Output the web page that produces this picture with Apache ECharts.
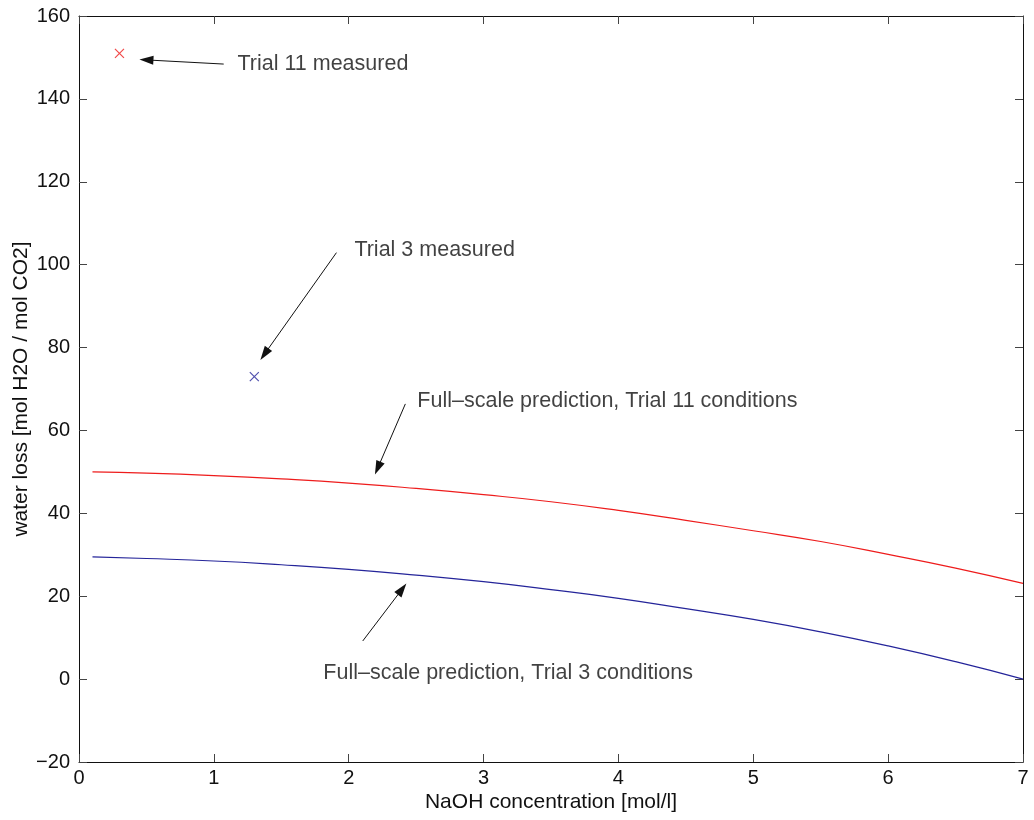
<!DOCTYPE html>
<html>
<head>
<meta charset="utf-8">
<script src="https://cdn.jsdelivr.net/npm/echarts@6/dist/echarts.min.js"></script>
<style>
html,body{margin:0;padding:0;background:#fff;}
#chart{width:1034px;height:820px;}
</style>
</head>
<body>
<div id="chart"></div>
<script>
// NaOH concentration [mol/l]
const xValues = [0.1, 0.5, 1.0, 1.5, 2.0, 2.5, 3.0, 3.5, 4.0, 4.5, 5.0, 5.5, 6.0, 6.5, 7.0];
// Full-scale prediction, Trial 11 conditions
const trial11Pred = [50.0, 49.7, 49.1, 48.3, 47.3, 46.0, 44.5, 42.8, 40.7, 38.3, 35.8, 33.2, 30.1, 26.8, 23.1];
// Full-scale prediction, Trial 3 conditions
const trial3Pred = [29.5, 29.1, 28.5, 27.6, 26.5, 25.1, 23.5, 21.6, 19.5, 17.0, 14.4, 11.4, 8.0, 4.2, 0.0];
// Measured points [x, y]
const trial11Measured = [[0.3, 151]];
const trial3Measured = [[1.3, 73]];
// Axis ticks
const xTicks = [0, 1, 2, 3, 4, 5, 6, 7];
const yTicks = [-20, 0, 20, 40, 60, 80, 100, 120, 140, 160];
// Annotations: text anchor [x, y] and arrow from [x,y] to [x,y]
const annoTexts = ['Trial 11 measured', 'Trial 3 measured', 'Full\u2013scale prediction, Trial 11 conditions', 'Full\u2013scale prediction, Trial 3 conditions'];
const annoTextPos = [[1.175, 148.4], [2.042, 103.5], [2.509, 67.1], [1.812, 1.45]];
const arrowFrom = [[1.073, 148.4], [1.909, 102.9], [2.42, 66.4], [2.104, 9.2]];
const arrowTo = [[0.50, 149.4], [1.375, 78.4], [2.215, 50.9], [2.396, 21.7]];

const FONT = 'Liberation Sans, Arial, Helvetica, sans-serif';
const chart = echarts.init(document.getElementById('chart'), null, {renderer: 'canvas'});

const xMin = xTicks[0], xMax = xTicks[xTicks.length - 1];
const yMin = yTicks[0], yMax = yTicks[yTicks.length - 1];
const xInt = xTicks[1] - xTicks[0], yInt = yTicks[1] - yTicks[0];

const axisLineStyle = {color: '#111', width: 1};
const tickStyle = {color: '#444', width: 1};

const xCross = 'path://M0,0 L10,10 M10,0 L0,10';

const option = {
  animation: false,
  backgroundColor: '#ffffff',
  grid: {left: 79, right: 11, top: 16, bottom: 58, containLabel: false, outerBoundsMode: 'none'},
  xAxis: [{
    type: 'value', min: xMin, max: xMax, interval: xInt, position: 'bottom',
    name: 'NaOH concentration [mol/l]', nameLocation: 'middle', nameGap: 30, nameMoveOverlap: false,
    nameTextStyle: {fontFamily: FONT, fontSize: 21, color: '#111'},
    axisLine: {show: true, onZero: false, lineStyle: axisLineStyle},
    axisTick: {show: true, inside: true, length: 8, lineStyle: tickStyle},
    axisLabel: {fontFamily: FONT, fontSize: 20, color: '#111', margin: 6},
    splitLine: {show: false}
  }, {
    type: 'value', min: xMin, max: xMax, interval: xInt, position: 'top',
    axisLine: {show: true, onZero: false, lineStyle: axisLineStyle},
    axisTick: {show: true, inside: true, length: 8, lineStyle: tickStyle},
    axisLabel: {show: false},
    splitLine: {show: false}
  }],
  yAxis: [{
    type: 'value', min: yMin, max: yMax, interval: yInt, position: 'left',
    name: 'water loss [mol H2O / mol CO2]', nameLocation: 'middle', nameGap: 47, nameMoveOverlap: false,
    nameTextStyle: {fontFamily: FONT, fontSize: 21, color: '#111'},
    axisLine: {show: true, onZero: false, lineStyle: axisLineStyle},
    axisTick: {show: true, inside: true, length: 8, lineStyle: tickStyle},
    axisLabel: {fontFamily: FONT, fontSize: 20, color: '#111', margin: 9,
      formatter: v => (v < 0 ? '\u2212' + Math.abs(v) : String(v))},
    splitLine: {show: false}
  }, {
    type: 'value', min: yMin, max: yMax, interval: yInt, position: 'right',
    axisLine: {show: true, onZero: false, lineStyle: axisLineStyle},
    axisTick: {show: true, inside: true, length: 8, lineStyle: tickStyle},
    axisLabel: {show: false},
    splitLine: {show: false}
  }],
  series: [
    {
      name: 'Trial 11 prediction', type: 'line', xAxisIndex: 0, yAxisIndex: 0,
      data: xValues.map((x, i) => [x, trial11Pred[i]]),
      smooth: true, showSymbol: false, lineStyle: {color: '#ee1c1c', width: 1.2}
    },
    {
      name: 'Trial 3 prediction', type: 'line', xAxisIndex: 0, yAxisIndex: 0,
      data: xValues.map((x, i) => [x, trial3Pred[i]]),
      smooth: true, showSymbol: false, lineStyle: {color: '#25259a', width: 1.2}
    },
    {
      name: 'Trial 11 measured', type: 'scatter', xAxisIndex: 0, yAxisIndex: 0,
      data: trial11Measured, symbol: xCross, symbolSize: 9,
      itemStyle: {color: 'rgba(0,0,0,0)', borderColor: '#ee1c1c', borderWidth: 1.2}
    },
    {
      name: 'Trial 3 measured', type: 'scatter', xAxisIndex: 0, yAxisIndex: 0,
      data: trial3Measured, symbol: xCross, symbolSize: 9,
      itemStyle: {color: 'rgba(0,0,0,0)', borderColor: '#25259a', borderWidth: 1.2}
    },
    {
      name: 'annotations', type: 'scatter', xAxisIndex: 0, yAxisIndex: 0,
      symbolSize: 0, silent: true,
      data: annoTextPos.map((p, i) => ({value: p, label: {formatter: annoTexts[i]}})),
      label: {show: true, position: 'right', distance: 0, fontFamily: FONT, fontSize: 21.5, color: '#111'},
      markLine: {
        silent: true, animation: false,
        symbol: ['none', 'triangle'],
        symbolSize: 12,
        label: {show: false},
        lineStyle: {color: '#111', width: 1, type: 'solid'},
        data: arrowFrom.map((f, i) => [
          {coord: f, symbol: 'none'},
          {coord: arrowTo[i], symbol: 'triangle', symbolSize: [9, 14]}
        ])
      }
    }
  ]
};
chart.setOption(option);
</script>
</body>
</html>
